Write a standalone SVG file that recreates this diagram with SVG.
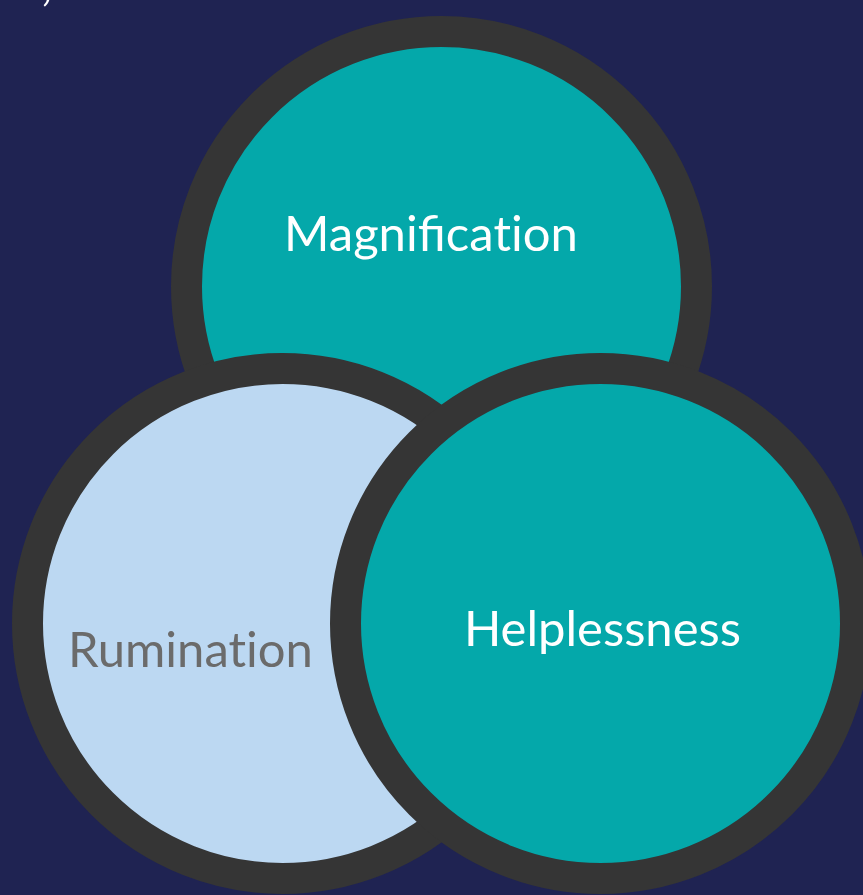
<svg xmlns="http://www.w3.org/2000/svg" width="863" height="895" viewBox="0 0 863 895">
<style>
.ring{stroke:#353535;stroke-width:31}
.teal{fill:#04a8aa}
.light{fill:#bcd8f2}
.lbl{font-family:Lato,"Open Sans","Liberation Sans",sans-serif;font-size:49px}
.nolig{font-feature-settings:"liga" 0;font-variant-ligatures:no-common-ligatures}
</style>
<rect width="863" height="895" fill="#1f2352"/>
<text x="41" y="0" class="lbl" fill="#ffffff" font-size="28">,</text>
<g id="magnification">
<circle cx="441.5" cy="286.5" r="255" class="ring teal"/>
<text x="431" y="251" class="lbl" fill="#ffffff" text-anchor="middle">Magnifica<tspan class="nolig">tion</tspan></text>
</g>
<g id="rumination">
<circle cx="282.5" cy="623.5" r="255" class="ring light"/>
<text x="68" y="667" class="lbl nolig" fill="#6b6b6b">Rumination</text>
</g>
<g id="helplessness">
<circle cx="600.5" cy="623.5" r="255" class="ring teal"/>
<text x="602.5" y="646" class="lbl" fill="#ffffff" text-anchor="middle">Helplessness</text>
</g>
<g id="connectors"/>
</svg>
